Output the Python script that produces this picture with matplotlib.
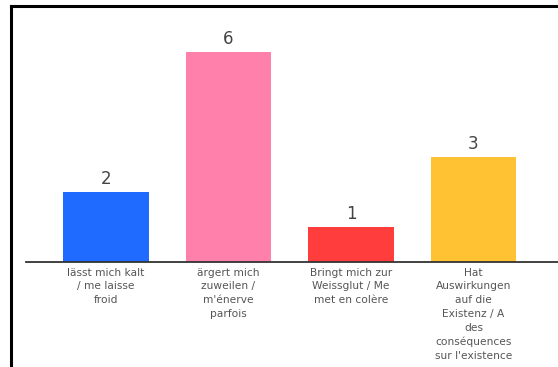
import matplotlib
matplotlib.use("Agg")
import matplotlib.pyplot as plt
from matplotlib.lines import Line2D

categories = [
    "lässt mich kalt\n/ me laisse\nfroid",
    "ärgert mich\nzuweilen /\nm'énerve\nparfois",
    "Bringt mich zur\nWeissglut / Me\nmet en colère",
    "Hat\nAuswirkungen\nauf die\nExistenz / A\ndes\nconséquences\nsur l'existence",
]
values = [2, 6, 1, 3]
colors = ["#1f6bff", "#ff80ab", "#ff3d3d", "#ffc233"]

W, H = 558, 367
fig = plt.figure(figsize=(W / 100, H / 100), dpi=100)
fig.patch.set_facecolor("white")

# plot area: baseline at y=262 px, 35 px per unit
base_px, top_px = 262, 20
left_px, right_px = 26, 558
ax = fig.add_axes([left_px / W, 1 - base_px / H,
                   (right_px - left_px) / W, (base_px - top_px) / H])
x = list(range(len(values)))
ax.bar(x, values, width=0.70, color=colors)
ax.set_ylim(0, (base_px - top_px) / 35)
ax.set_xlim(-0.653, 3.69)

for xi, v in zip(x, values):
    ax.annotate(str(v), (xi, v), xytext=(0, 3), textcoords="offset points",
                ha="center", va="bottom", fontsize=12, color="#444444")

ax.set_xticks(x)
ax.set_xticklabels(categories, fontsize=7.7, color="#555555", linespacing=1.47)
ax.tick_params(axis="x", length=0, pad=4)
ax.set_yticks([])
for s in ["top", "left", "right"]:
    ax.spines[s].set_visible(False)
ax.spines["bottom"].set_color("#333333")
ax.spines["bottom"].set_linewidth(1.3)

# frame lines along the top and left of the figure
fig.add_artist(Line2D([10.5 / W, 1.0], [1 - 5.5 / H, 1 - 5.5 / H],
                      transform=fig.transFigure, color="black", lw=2.2))
fig.add_artist(Line2D([10.5 / W, 10.5 / W], [0, 1 - 5.5 / H],
                      transform=fig.transFigure, color="black", lw=2.2))

fig.savefig("out.png", dpi=100)
